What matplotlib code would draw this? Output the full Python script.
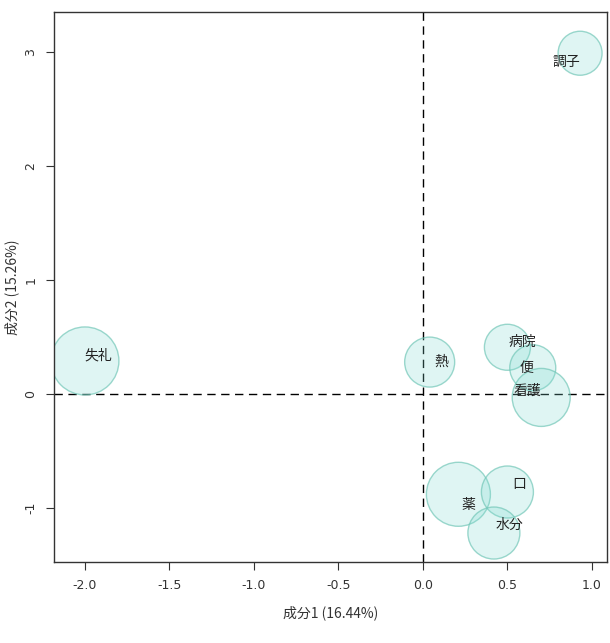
import matplotlib
matplotlib.use("Agg")
from matplotlib import pyplot as plt
import numpy as np

plt.rcParams['font.family'] = ['Noto Sans CJK JP', 'DejaVu Sans']

# data
words = ['失礼', '熱', '病院', '便', '看護', '薬', '口', '水分', '調子']
dim1 = [-2.00, 0.04, 0.50, 0.65, 0.70, 0.21, 0.50, 0.42, 0.93]
dim2 = [0.29, 0.28, 0.41, 0.23, -0.03, -0.88, -0.86, -1.22, 2.99]
bubble = [68, 50, 46, 46, 58, 64, 52, 52, 44]  # bubble diameter (px)
# label positions
lab_x = [-1.92, 0.11, 0.59, 0.61, 0.62, 0.27, 0.57, 0.51, 0.85]
lab_y = [0.34, 0.28, 0.46, 0.23, 0.03, -0.97, -0.79, -1.15, 2.91]

xticks = [-2.0, -1.5, -1.0, -0.5, 0.0, 0.5, 1.0]
yticks = [-1, 0, 1, 2, 3]

fig = plt.figure(figsize=(6.1, 6.43), dpi=100)
ax = fig.add_axes([0.0885, 0.126, 0.9065, 0.855])

s = [(0.72 * d) ** 2 for d in bubble]
ax.scatter(dim1, dim2, s=s, facecolor=(0.5, 0.86, 0.82, 0.25),
           edgecolor=(0.45, 0.78, 0.72, 0.7), linewidth=1.0, zorder=2)

for w, x, y in zip(words, lab_x, lab_y):
    ax.text(x, y, w, fontsize=10, color='#222222', ha='center', va='center', zorder=3)

ax.axvline(0, color='black', linestyle=(0, (6, 4)), linewidth=1.0, zorder=1)
ax.axhline(0, color='black', linestyle=(0, (6, 4)), linewidth=1.0, zorder=1)

ax.set_xlim(-2.183, 1.089)
ax.set_ylim(-1.474, 3.35)
ax.set_xticks(xticks)
ax.set_xticklabels(['%.1f' % v for v in xticks], family='DejaVu Sans')
ax.set_yticks(yticks)
ax.set_yticklabels([str(v) for v in yticks], rotation=90, va='center',
                   family='DejaVu Sans')

ax.tick_params(direction='out', length=6, width=0.8, colors='#333333',
               labelsize=9, pad=6)
for sp in ax.spines.values():
    sp.set_color('#333333')
    sp.set_linewidth(1.0)

ax.set_xlabel('成分1 (16.44%)', fontsize=10, color='#333333', labelpad=10)
ax.set_ylabel('成分2 (15.26%)', fontsize=10, color='#333333', labelpad=4)

fig.savefig('out.png', dpi=100)
